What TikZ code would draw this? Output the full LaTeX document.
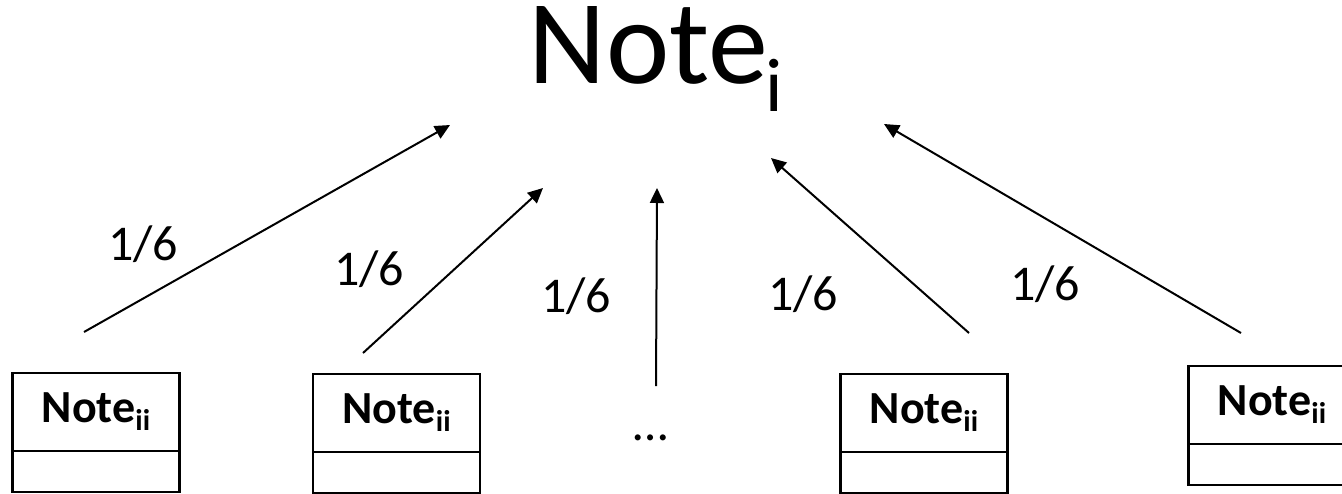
\documentclass[tikz,border=0pt]{standalone}
\usepackage{fontspec}
\setmainfont{Carlito}
\usetikzlibrary{positioning,arrows.meta}
\tikzset{
  notebox/.style={draw,line width=1.4pt,outer sep=0pt,inner sep=0pt,
    minimum width=83.5pt,minimum height=39pt,anchor=north,
    font=\fontsize{23}{26}\selectfont\bfseries},
  notefoot/.style={draw,line width=1.4pt,outer sep=0pt,
    minimum width=83.5pt,minimum height=20.5pt},
  weight/.style={font=\fontsize{25}{30}\selectfont,inner sep=0pt,anchor=base},
  link/.style={line width=1pt,-{Triangle[length=7.5pt,width=7pt]}}
}
\begin{document}
\begin{tikzpicture}[x=0.5pt,y=-0.5pt]
    \useasboundingbox (0,0) rectangle (1342,493);
    \node[font=\fontsize{60}{64}\selectfont,inner sep=0pt,anchor=base] (top) at (656,83)
      {Note\kern-1pt\raisebox{-14pt}{\fontsize{38}{40}\selectfont i}};
    % boxes below
    \foreach \n/\x/\y in {1/96/373,2/396.5/374,3/924/374,4/1272/366} {
        \node[notebox] (b\n) at (\x,\y) {Note\raisebox{-4pt}{\fontsize{15}{15}\selectfont ii}};
        \node[notefoot,below=0pt of b\n] (f\n) {};
      }
    \node[weight] (dots) at (651,440) {…};
    % arrows up to the top note
    \foreach \n/\sx/\sy/\tx/\ty in {1/84/332/450/125,2/363/353/543/188,3/656/386/657/188,4/969/333/771/158,5/1241/333/884/124} {
        \coordinate (s\n) at (\sx,\sy);
        \coordinate (t\n) at (\tx,\ty);
        \draw[link] (s\n) -- (t\n);
      }
    \node[weight] (w1) at (143,260) {1/6};
    \node[weight] (w2) at (369,285) {1/6};
    \node[weight] (w3) at (576,312) {1/6};
    \node[weight] (w4) at (803,310) {1/6};
    \node[weight] (w5) at (1045,300) {1/6};
  \end{tikzpicture}
\end{document}
